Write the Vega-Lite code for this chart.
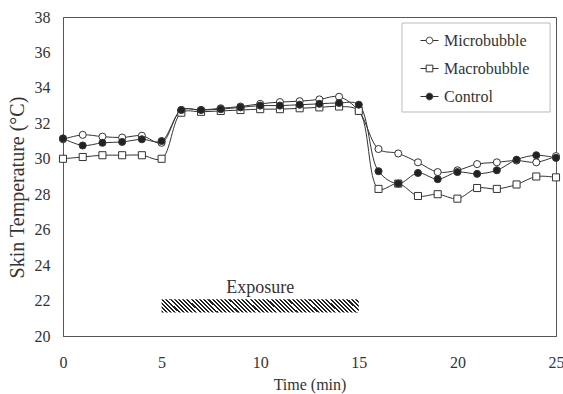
{
  "$schema": "https://vega.github.io/schema/vega-lite/v6.json",
  "width": 493,
  "height": 319,
  "autosize": {"type": "none"},
  "padding": {"left": 63, "top": 17, "right": 7, "bottom": 58},
  "background": "white",
  "config": {
    "view": {"stroke": "#555", "strokeWidth": 1},
    "font": "Liberation Serif",
    "axis": {
      "labelFont": "Liberation Serif",
      "labelFontSize": 16,
      "labelColor": "#333",
      "labelOverlap": false,
      "labelFlush": false,
      "labelBound": false,
      "titleFont": "Liberation Serif",
      "titleFontSize": 16,
      "titleFontWeight": "normal",
      "titleColor": "#333",
      "domainColor": "#555",
      "ticks": false,
      "grid": false
    },
    "axisX": {"labelPadding": 18, "titlePadding": 6},
    "axisY": {"labelPadding": 13, "titlePadding": 7, "titleFontSize": 20, "titleY": 170},
    "legend": {
      "title": null,
      "orient": "none",
      "legendX": 357,
      "legendY": 14,
      "labelFont": "Liberation Serif",
      "labelFontSize": 16,
      "labelColor": "#333",
      "symbolSize": 324,
      "symbolStrokeWidth": 1,
      "symbolStrokeColor": "#333",
      "rowPadding": 10,
      "labelOffset": 5,
      "padding": 0
    }
  },
  "datasets": {
    "temps": [
      {"t": 0, "series": "Microbubble", "v": 31.1},
      {"t": 1, "series": "Microbubble", "v": 31.35},
      {"t": 2, "series": "Microbubble", "v": 31.25},
      {"t": 3, "series": "Microbubble", "v": 31.2},
      {"t": 4, "series": "Microbubble", "v": 31.3},
      {"t": 5, "series": "Microbubble", "v": 30.9},
      {"t": 6, "series": "Microbubble", "v": 32.75},
      {"t": 7, "series": "Microbubble", "v": 32.75},
      {"t": 8, "series": "Microbubble", "v": 32.85},
      {"t": 9, "series": "Microbubble", "v": 32.95},
      {"t": 10, "series": "Microbubble", "v": 33.1},
      {"t": 11, "series": "Microbubble", "v": 33.2},
      {"t": 12, "series": "Microbubble", "v": 33.25},
      {"t": 13, "series": "Microbubble", "v": 33.35},
      {"t": 14, "series": "Microbubble", "v": 33.5},
      {"t": 15, "series": "Microbubble", "v": 32.7},
      {"t": 16, "series": "Microbubble", "v": 30.55},
      {"t": 17, "series": "Microbubble", "v": 30.3},
      {"t": 18, "series": "Microbubble", "v": 29.8},
      {"t": 19, "series": "Microbubble", "v": 29.25},
      {"t": 20, "series": "Microbubble", "v": 29.35},
      {"t": 21, "series": "Microbubble", "v": 29.7},
      {"t": 22, "series": "Microbubble", "v": 29.8},
      {"t": 23, "series": "Microbubble", "v": 29.9},
      {"t": 24, "series": "Microbubble", "v": 29.8},
      {"t": 25, "series": "Microbubble", "v": 30.15},
      {"t": 0, "series": "Macrobubble", "v": 30.0},
      {"t": 1, "series": "Macrobubble", "v": 30.1},
      {"t": 2, "series": "Macrobubble", "v": 30.2},
      {"t": 3, "series": "Macrobubble", "v": 30.2},
      {"t": 4, "series": "Macrobubble", "v": 30.2},
      {"t": 5, "series": "Macrobubble", "v": 30.0},
      {"t": 6, "series": "Macrobubble", "v": 32.6},
      {"t": 7, "series": "Macrobubble", "v": 32.65},
      {"t": 8, "series": "Macrobubble", "v": 32.7},
      {"t": 9, "series": "Macrobubble", "v": 32.75},
      {"t": 10, "series": "Macrobubble", "v": 32.8},
      {"t": 11, "series": "Macrobubble", "v": 32.8},
      {"t": 12, "series": "Macrobubble", "v": 32.85},
      {"t": 13, "series": "Macrobubble", "v": 32.9},
      {"t": 14, "series": "Macrobubble", "v": 32.95},
      {"t": 15, "series": "Macrobubble", "v": 32.7},
      {"t": 16, "series": "Macrobubble", "v": 28.3},
      {"t": 17, "series": "Macrobubble", "v": 28.6},
      {"t": 18, "series": "Macrobubble", "v": 27.9},
      {"t": 19, "series": "Macrobubble", "v": 28.0},
      {"t": 20, "series": "Macrobubble", "v": 27.75},
      {"t": 21, "series": "Macrobubble", "v": 28.35},
      {"t": 22, "series": "Macrobubble", "v": 28.3},
      {"t": 23, "series": "Macrobubble", "v": 28.55},
      {"t": 24, "series": "Macrobubble", "v": 29.0},
      {"t": 25, "series": "Macrobubble", "v": 28.95},
      {"t": 0, "series": "Control", "v": 31.15},
      {"t": 1, "series": "Control", "v": 30.75},
      {"t": 2, "series": "Control", "v": 30.9},
      {"t": 3, "series": "Control", "v": 30.95},
      {"t": 4, "series": "Control", "v": 31.1},
      {"t": 5, "series": "Control", "v": 31.0},
      {"t": 6, "series": "Control", "v": 32.75},
      {"t": 7, "series": "Control", "v": 32.75},
      {"t": 8, "series": "Control", "v": 32.8},
      {"t": 9, "series": "Control", "v": 32.9},
      {"t": 10, "series": "Control", "v": 33.0},
      {"t": 11, "series": "Control", "v": 33.0},
      {"t": 12, "series": "Control", "v": 33.05},
      {"t": 13, "series": "Control", "v": 33.1},
      {"t": 14, "series": "Control", "v": 33.15},
      {"t": 15, "series": "Control", "v": 33.05},
      {"t": 16, "series": "Control", "v": 29.3},
      {"t": 17, "series": "Control", "v": 28.6},
      {"t": 18, "series": "Control", "v": 29.2},
      {"t": 19, "series": "Control", "v": 28.85},
      {"t": 20, "series": "Control", "v": 29.25},
      {"t": 21, "series": "Control", "v": 29.15},
      {"t": 22, "series": "Control", "v": 29.35},
      {"t": 23, "series": "Control", "v": 29.95},
      {"t": 24, "series": "Control", "v": 30.2},
      {"t": 25, "series": "Control", "v": 30.05}
    ]
  },
  "layer": [
    {
      "data": {"name": "temps"},
      "mark": {"type": "line", "interpolate": "catmull-rom", "stroke": "#333", "strokeWidth": 1},
      "encoding": {
        "x": {"field": "t", "type": "quantitative", "scale": {"domain": [0, 25], "nice": false}, "axis": {"values": [0, 5, 10, 15, 20, 25]}, "title": "Time (min)"},
        "y": {"field": "v", "type": "quantitative", "scale": {"domain": [20, 38], "nice": false, "zero": false}, "axis": {"values": [20, 22, 24, 26, 28, 30, 32, 34, 36, 38]}, "title": "Skin Temperature (°C)"},
        "detail": {"field": "series", "type": "nominal"}
      }
    },
    {
      "data": {"name": "temps"},
      "mark": {"type": "point", "stroke": "#333", "strokeWidth": 1, "size": 50, "opacity": 1},
      "encoding": {
        "x": {"field": "t", "type": "quantitative", "axis": {"values": [0, 5, 10, 15, 20, 25]}, "title": "Time (min)"},
        "y": {"field": "v", "type": "quantitative", "axis": {"values": [20, 22, 24, 26, 28, 30, 32, 34, 36, 38]}, "title": "Skin Temperature (°C)"},
        "shape": {"field": "series", "type": "nominal", "scale": {"domain": ["Microbubble", "Macrobubble", "Control"], "range": ["circle", "square", "circle"]}, "legend": null},
        "fill": {"field": "series", "type": "nominal", "scale": {"domain": ["Microbubble", "Macrobubble", "Control"], "range": ["#ffffff", "#ffffff", "#222222"]}, "legend": null}
      }
    },
    {
      "data": {"values": [{}]},
      "mark": {
        "type": "rect",
        "fill": {
          "gradient": "linear",
          "x1": 0, "y1": 1, "x2": 1.063, "y2": 0.928,
          "stops": [
            {"offset": 0, "color": "#222"}, {"offset": 0.01, "color": "#222"}, {"offset": 0.01, "color": "#fff"}, {"offset": 0.02, "color": "#fff"},
            {"offset": 0.02, "color": "#222"}, {"offset": 0.03, "color": "#222"}, {"offset": 0.03, "color": "#fff"}, {"offset": 0.04, "color": "#fff"},
            {"offset": 0.04, "color": "#222"}, {"offset": 0.05, "color": "#222"}, {"offset": 0.05, "color": "#fff"}, {"offset": 0.06, "color": "#fff"},
            {"offset": 0.06, "color": "#222"}, {"offset": 0.07, "color": "#222"}, {"offset": 0.07, "color": "#fff"}, {"offset": 0.08, "color": "#fff"},
            {"offset": 0.08, "color": "#222"}, {"offset": 0.09, "color": "#222"}, {"offset": 0.09, "color": "#fff"}, {"offset": 0.10, "color": "#fff"},
            {"offset": 0.10, "color": "#222"}, {"offset": 0.11, "color": "#222"}, {"offset": 0.11, "color": "#fff"}, {"offset": 0.12, "color": "#fff"},
            {"offset": 0.12, "color": "#222"}, {"offset": 0.13, "color": "#222"}, {"offset": 0.13, "color": "#fff"}, {"offset": 0.14, "color": "#fff"},
            {"offset": 0.14, "color": "#222"}, {"offset": 0.15, "color": "#222"}, {"offset": 0.15, "color": "#fff"}, {"offset": 0.16, "color": "#fff"},
            {"offset": 0.16, "color": "#222"}, {"offset": 0.17, "color": "#222"}, {"offset": 0.17, "color": "#fff"}, {"offset": 0.18, "color": "#fff"},
            {"offset": 0.18, "color": "#222"}, {"offset": 0.19, "color": "#222"}, {"offset": 0.19, "color": "#fff"}, {"offset": 0.20, "color": "#fff"},
            {"offset": 0.20, "color": "#222"}, {"offset": 0.21, "color": "#222"}, {"offset": 0.21, "color": "#fff"}, {"offset": 0.22, "color": "#fff"},
            {"offset": 0.22, "color": "#222"}, {"offset": 0.23, "color": "#222"}, {"offset": 0.23, "color": "#fff"}, {"offset": 0.24, "color": "#fff"},
            {"offset": 0.24, "color": "#222"}, {"offset": 0.25, "color": "#222"}, {"offset": 0.25, "color": "#fff"}, {"offset": 0.26, "color": "#fff"},
            {"offset": 0.26, "color": "#222"}, {"offset": 0.27, "color": "#222"}, {"offset": 0.27, "color": "#fff"}, {"offset": 0.28, "color": "#fff"},
            {"offset": 0.28, "color": "#222"}, {"offset": 0.29, "color": "#222"}, {"offset": 0.29, "color": "#fff"}, {"offset": 0.30, "color": "#fff"},
            {"offset": 0.30, "color": "#222"}, {"offset": 0.31, "color": "#222"}, {"offset": 0.31, "color": "#fff"}, {"offset": 0.32, "color": "#fff"},
            {"offset": 0.32, "color": "#222"}, {"offset": 0.33, "color": "#222"}, {"offset": 0.33, "color": "#fff"}, {"offset": 0.34, "color": "#fff"},
            {"offset": 0.34, "color": "#222"}, {"offset": 0.35, "color": "#222"}, {"offset": 0.35, "color": "#fff"}, {"offset": 0.36, "color": "#fff"},
            {"offset": 0.36, "color": "#222"}, {"offset": 0.37, "color": "#222"}, {"offset": 0.37, "color": "#fff"}, {"offset": 0.38, "color": "#fff"},
            {"offset": 0.38, "color": "#222"}, {"offset": 0.39, "color": "#222"}, {"offset": 0.39, "color": "#fff"}, {"offset": 0.40, "color": "#fff"},
            {"offset": 0.40, "color": "#222"}, {"offset": 0.41, "color": "#222"}, {"offset": 0.41, "color": "#fff"}, {"offset": 0.42, "color": "#fff"},
            {"offset": 0.42, "color": "#222"}, {"offset": 0.43, "color": "#222"}, {"offset": 0.43, "color": "#fff"}, {"offset": 0.44, "color": "#fff"},
            {"offset": 0.44, "color": "#222"}, {"offset": 0.45, "color": "#222"}, {"offset": 0.45, "color": "#fff"}, {"offset": 0.46, "color": "#fff"},
            {"offset": 0.46, "color": "#222"}, {"offset": 0.47, "color": "#222"}, {"offset": 0.47, "color": "#fff"}, {"offset": 0.48, "color": "#fff"},
            {"offset": 0.48, "color": "#222"}, {"offset": 0.49, "color": "#222"}, {"offset": 0.49, "color": "#fff"}, {"offset": 0.50, "color": "#fff"},
            {"offset": 0.50, "color": "#222"}, {"offset": 0.51, "color": "#222"}, {"offset": 0.51, "color": "#fff"}, {"offset": 0.52, "color": "#fff"},
            {"offset": 0.52, "color": "#222"}, {"offset": 0.53, "color": "#222"}, {"offset": 0.53, "color": "#fff"}, {"offset": 0.54, "color": "#fff"},
            {"offset": 0.54, "color": "#222"}, {"offset": 0.55, "color": "#222"}, {"offset": 0.55, "color": "#fff"}, {"offset": 0.56, "color": "#fff"},
            {"offset": 0.56, "color": "#222"}, {"offset": 0.57, "color": "#222"}, {"offset": 0.57, "color": "#fff"}, {"offset": 0.58, "color": "#fff"},
            {"offset": 0.58, "color": "#222"}, {"offset": 0.59, "color": "#222"}, {"offset": 0.59, "color": "#fff"}, {"offset": 0.60, "color": "#fff"},
            {"offset": 0.60, "color": "#222"}, {"offset": 0.61, "color": "#222"}, {"offset": 0.61, "color": "#fff"}, {"offset": 0.62, "color": "#fff"},
            {"offset": 0.62, "color": "#222"}, {"offset": 0.63, "color": "#222"}, {"offset": 0.63, "color": "#fff"}, {"offset": 0.64, "color": "#fff"},
            {"offset": 0.64, "color": "#222"}, {"offset": 0.65, "color": "#222"}, {"offset": 0.65, "color": "#fff"}, {"offset": 0.66, "color": "#fff"},
            {"offset": 0.66, "color": "#222"}, {"offset": 0.67, "color": "#222"}, {"offset": 0.67, "color": "#fff"}, {"offset": 0.68, "color": "#fff"},
            {"offset": 0.68, "color": "#222"}, {"offset": 0.69, "color": "#222"}, {"offset": 0.69, "color": "#fff"}, {"offset": 0.70, "color": "#fff"},
            {"offset": 0.70, "color": "#222"}, {"offset": 0.71, "color": "#222"}, {"offset": 0.71, "color": "#fff"}, {"offset": 0.72, "color": "#fff"},
            {"offset": 0.72, "color": "#222"}, {"offset": 0.73, "color": "#222"}, {"offset": 0.73, "color": "#fff"}, {"offset": 0.74, "color": "#fff"},
            {"offset": 0.74, "color": "#222"}, {"offset": 0.75, "color": "#222"}, {"offset": 0.75, "color": "#fff"}, {"offset": 0.76, "color": "#fff"},
            {"offset": 0.76, "color": "#222"}, {"offset": 0.77, "color": "#222"}, {"offset": 0.77, "color": "#fff"}, {"offset": 0.78, "color": "#fff"},
            {"offset": 0.78, "color": "#222"}, {"offset": 0.79, "color": "#222"}, {"offset": 0.79, "color": "#fff"}, {"offset": 0.80, "color": "#fff"},
            {"offset": 0.80, "color": "#222"}, {"offset": 0.81, "color": "#222"}, {"offset": 0.81, "color": "#fff"}, {"offset": 0.82, "color": "#fff"},
            {"offset": 0.82, "color": "#222"}, {"offset": 0.83, "color": "#222"}, {"offset": 0.83, "color": "#fff"}, {"offset": 0.84, "color": "#fff"},
            {"offset": 0.84, "color": "#222"}, {"offset": 0.85, "color": "#222"}, {"offset": 0.85, "color": "#fff"}, {"offset": 0.86, "color": "#fff"},
            {"offset": 0.86, "color": "#222"}, {"offset": 0.87, "color": "#222"}, {"offset": 0.87, "color": "#fff"}, {"offset": 0.88, "color": "#fff"},
            {"offset": 0.88, "color": "#222"}, {"offset": 0.89, "color": "#222"}, {"offset": 0.89, "color": "#fff"}, {"offset": 0.90, "color": "#fff"},
            {"offset": 0.90, "color": "#222"}, {"offset": 0.91, "color": "#222"}, {"offset": 0.91, "color": "#fff"}, {"offset": 0.92, "color": "#fff"},
            {"offset": 0.92, "color": "#222"}, {"offset": 0.93, "color": "#222"}, {"offset": 0.93, "color": "#fff"}, {"offset": 0.94, "color": "#fff"},
            {"offset": 0.94, "color": "#222"}, {"offset": 0.95, "color": "#222"}, {"offset": 0.95, "color": "#fff"}, {"offset": 0.96, "color": "#fff"},
            {"offset": 0.96, "color": "#222"}, {"offset": 0.97, "color": "#222"}, {"offset": 0.97, "color": "#fff"}, {"offset": 0.98, "color": "#fff"},
            {"offset": 0.98, "color": "#222"}, {"offset": 0.99, "color": "#222"}, {"offset": 0.99, "color": "#fff"}, {"offset": 1, "color": "#fff"}
          ]
        }
      },
      "encoding": {
        "x": {"datum": 5, "type": "quantitative", "axis": {"values": [0, 5, 10, 15, 20, 25]}, "title": "Time (min)"},
        "x2": {"datum": 15},
        "y": {"datum": 22.07, "type": "quantitative", "axis": {"values": [20, 22, 24, 26, 28, 30, 32, 34, 36, 38]}, "title": "Skin Temperature (°C)"},
        "y2": {"datum": 21.33}
      }
    },
    {
      "data": {"values": [{}]},
      "mark": {"type": "text", "text": "Exposure", "font": "Liberation Serif", "fontSize": 18, "fill": "#333", "align": "center", "baseline": "alphabetic"},
      "encoding": {
        "x": {"datum": 10, "type": "quantitative", "axis": {"values": [0, 5, 10, 15, 20, 25]}, "title": "Time (min)"},
        "y": {"datum": 22.45, "type": "quantitative", "axis": {"values": [20, 22, 24, 26, 28, 30, 32, 34, 36, 38]}, "title": "Skin Temperature (°C)"}
      }
    },
    {
      "data": {"values": [{}]},
      "mark": {"type": "rect", "fill": "#ffffff", "stroke": "#bbbbbb", "strokeWidth": 1},
      "encoding": {
        "x": {"datum": 17.19, "type": "quantitative", "axis": {"values": [0, 5, 10, 15, 20, 25]}, "title": "Time (min)"},
        "x2": {"datum": 24.7},
        "y": {"datum": 37.66, "type": "quantitative", "axis": {"values": [20, 22, 24, 26, 28, 30, 32, 34, 36, 38]}, "title": "Skin Temperature (°C)"},
        "y2": {"datum": 32.64}
      }
    },
    {
      "data": {"name": "temps"},
      "transform": [{"filter": "datum.t < 0"}],
      "mark": {"type": "point", "strokeWidth": 1, "size": 324, "opacity": 1},
      "encoding": {
        "x": {"field": "t", "type": "quantitative", "axis": {"values": [0, 5, 10, 15, 20, 25]}, "title": "Time (min)"},
        "y": {"field": "v", "type": "quantitative", "axis": {"values": [20, 22, 24, 26, 28, 30, 32, 34, 36, 38]}, "title": "Skin Temperature (°C)"},
        "shape": {"field": "series", "type": "nominal", "scale": {"domain": ["Microbubble", "Macrobubble", "Control"], "range": ["M-1,0H-0.37M0.37,0H1M0.37,0A0.37,0.37,0,1,1,-0.37,0A0.37,0.37,0,1,1,0.37,0Z", "M-1,0H-0.37M0.37,0H1M-0.37,-0.37H0.37V0.37H-0.37Z", "M-1,0H-0.37M0.37,0H1M0.37,0A0.37,0.37,0,1,1,-0.37,0A0.37,0.37,0,1,1,0.37,0Z"]}, "legend": {"title": null}},
        "fill": {"field": "series", "type": "nominal", "scale": {"domain": ["Microbubble", "Macrobubble", "Control"], "range": ["#ffffff", "#ffffff", "#222222"]}, "legend": {"title": null}},
        "stroke": {"field": "series", "type": "nominal", "scale": {"domain": ["Microbubble", "Macrobubble", "Control"], "range": ["#333333", "#333333", "#333333"]}, "legend": {"title": null}}
      }
    }
  ],
  "resolve": {"scale": {"shape": "independent", "fill": "independent", "stroke": "independent"}}
}
